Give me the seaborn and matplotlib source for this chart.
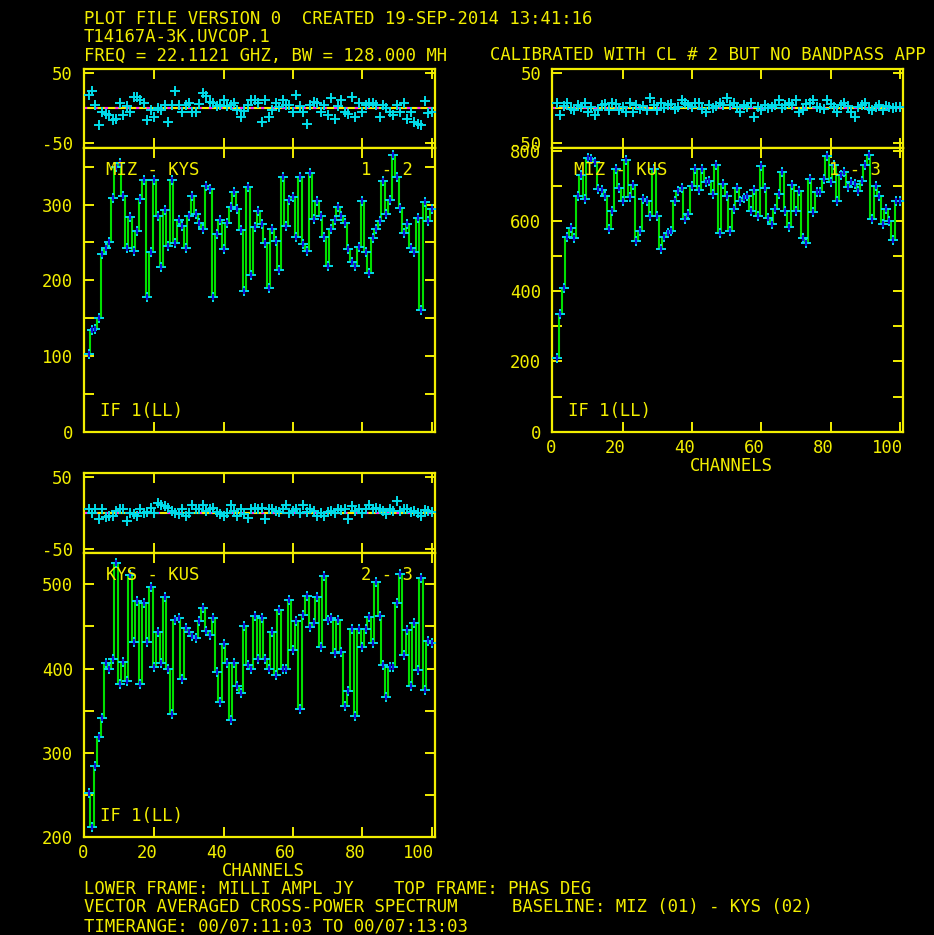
"""AIPS POSSM style cross-power spectra, three baselines."""
import matplotlib
matplotlib.use("Agg")
import matplotlib.pyplot as plt
import matplotlib.transforms as mtransforms
import pandas as pd
import seaborn as sns

channels = list(range(1, 101))

amp_miz_kys = [
    102, 134, 136, 150, 235, 243, 251, 308, 349, 355,
    311, 243, 283, 239, 265, 307, 333, 178, 237, 333,
    285, 217, 293, 245, 333, 249, 279, 272, 243, 285,
    311, 287, 276, 268, 325, 321, 178, 261, 279, 241,
    276, 297, 316, 294, 266, 186, 323, 207, 270, 292,
    274, 249, 190, 268, 252, 213, 336, 272, 306, 310,
    257, 336, 248, 239, 342, 281, 305, 285, 257, 219,
    268, 279, 297, 285, 276, 241, 224, 219, 244, 304,
    237, 209, 256, 268, 278, 331, 287, 306, 366, 336,
    295, 263, 274, 243, 237, 282, 161, 303, 278, 294,
]
phase_miz_kys = [
    18, 25, 5, -24, -6, -8, -10, -17, -15, 8,
    -10, 3, -5, 16, 16, 11, 8, -17, -3, -13,
    0, -2, 5, -19, 5, 24, 5, -6, 5, 7,
    -5, -5, 6, 22, 17, 9, 8, 3, 5, 11,
    3, 5, 8, -3, -13, -4, 5, 12, 11, 8,
    -20, 11, -13, -2, 8, 2, 12, 5, 5, -6,
    19, 3, -6, -22, 5, 9, 8, -5, 5, -9,
    14, -15, 3, 12, -5, -8, 16, -13, 8, -5,
    5, 8, 8, 5, -13, 4, 0, -6, -10, 5,
    -5, 7, -15, -6, -20, -22, -24, 10, -7, -5,
]

amp_miz_kus = [
    210, 335, 410, 555, 580, 552, 671, 729, 662, 778,
    776, 767, 690, 689, 671, 578, 628, 748, 692, 657,
    774, 667, 702, 543, 571, 662, 657, 614, 748, 614,
    519, 555, 566, 571, 657, 686, 692, 604, 619, 698,
    746, 689, 746, 710, 714, 676, 759, 566, 705, 671,
    571, 633, 692, 657, 664, 671, 628, 689, 614, 755,
    692, 609, 590, 633, 676, 740, 628, 581, 702, 628,
    686, 550, 538, 719, 624, 683, 683, 719, 784, 710,
    759, 657, 730, 738, 695, 710, 705, 686, 714, 759,
    786, 604, 698, 671, 590, 635, 600, 545, 655, 657,
]
phase_miz_kus = [
    8, -10, 3, 8, -1, -3, 5, 2, 8, -6,
    1, -10, -3, 4, 6, -3, 8, 6, -3, 2,
    -6, 8, -6, 4, -1, 3, -3, 14, 4, -3,
    8, 0, 4, 6, -1, 1, 11, 8, 5, 2,
    8, 8, -1, -6, 5, 0, 3, 8, 5, 14,
    4, 8, 1, -6, 5, 2, 8, -13, 1, -3,
    5, 0, 1, 5, 11, 0, 4, 8, 5, 11,
    -6, -3, 6, 8, 11, 2, 0, -1, 11, 6,
    1, -6, 4, 8, 3, -5, -13, 1, 5, 8,
    -1, -3, 2, 4, -2, 3, 1, 0, 2, 1,
]

amp_kys_kus = [
    252, 211, 284, 318, 341, 406, 399, 411, 525, 381,
    408, 385, 511, 431, 480, 381, 478, 431, 497, 402,
    444, 407, 485, 400, 346, 458, 460, 388, 448, 444,
    439, 436, 457, 472, 445, 440, 460, 396, 360, 429,
    407, 339, 406, 379, 371, 451, 404, 400, 463, 411,
    460, 411, 399, 444, 392, 469, 400, 400, 482, 422,
    456, 352, 464, 486, 449, 454, 485, 425, 510, 458,
    460, 419, 458, 420, 356, 373, 447, 344, 447, 426,
    447, 461, 430, 503, 462, 404, 366, 402, 402, 478,
    512, 416, 446, 379, 454, 398, 508, 375, 433, 430,
]
phase_kys_kus = [
    5, 0, 5, -8, 5, -6, -4, -5, 2, 5,
    5, -11, 0, -2, -5, 5, 0, 1, 7, 0,
    13, 11, 9, 7, 2, 0, -2, 5, -5, 0,
    11, 5, 5, 11, 2, 5, 7, 1, -2, -5,
    0, 11, 2, -5, 5, -2, -7, 5, 7, 5,
    7, -9, 5, 5, 2, 1, 5, 11, 0, 2,
    5, 0, 11, 1, 5, 2, -4, 0, -5, 1,
    2, 0, 5, 4, 5, -8, 9, 2, 5, 0,
    5, 11, 5, 7, 5, 2, -2, 5, 2, 17,
    2, 5, 5, 1, 2, 0, -4, 4, 3, 1,
]

x_ticks = [20, 40, 60, 80, 100]
x_tick_labels = ["0", "20", "40", "60", "80", "100"]

header = [
    "PLOT FILE VERSION 0  CREATED 19-SEP-2014 13:41:16",
    "T14167A-3K.UVCOP.1",
    "FREQ = 22.1121 GHZ, BW = 128.000 MH",
]
# the reference is cut at the right edge, keep only what shows
header_right = "CALIBRATED WITH CL # 2 BUT NO BANDPASS APP"
footer = [
    ("LOWER FRAME: MILLI AMPL JY", "TOP FRAME: PHAS DEG"),
    ("VECTOR AVERAGED CROSS-POWER SPECTRUM", "BASELINE: MIZ (01) - KYS (02)"),
    ("TIMERANGE: 00/07:11:03 TO 00/07:13:03", ""),
]

W, H = 934, 935
YEL = "#f2ee00"
GREEN = "#00e000"
CYAN = "#00dcea"
BLUE = "#1010d8"
MAG = "#ff20ff"
FS = 12.4

sns.set_style("ticks", {"axes.facecolor": "black", "figure.facecolor": "black"})
plt.rcParams["font.family"] = ["DejaVu Sans Mono"]

fig = plt.figure(figsize=(W / 100, H / 100), dpi=100, facecolor="black")


def px_text(x, y, s, **kw):
    # x, y in pixels from top left, y is the baseline
    fig.text(x / W, 1 - y / H, s, color=YEL, fontsize=FS, va="baseline", **kw)


def style_axes(ax, ylim, yticks, ylabels):
    ax.set_facecolor("black")
    ax.set_xlim(-0.3, 101)
    ax.set_ylim(*ylim)
    ax.set_xticks(x_ticks)
    ax.set_xticklabels([])
    ax.set_yticks(yticks)
    ax.set_yticklabels(ylabels)
    ax.set_xlabel("")
    ax.set_ylabel("")
    for sp in ax.spines.values():
        sp.set_color(YEL)
        sp.set_linewidth(1.6)
    ax.tick_params(axis="both", which="both", direction="in", colors=YEL,
                   length=7, width=1.4, top=True, right=True,
                   labelsize=FS, pad=8)


def panel(left, right, top, mid, bottom, amp, phase, amp_ylim, amp_ticks,
          amp_labels, pair, numbers, xlabels):
    ax_ph = fig.add_axes([left / W, 1 - mid / H, (right - left) / W, (mid - top) / H])
    ax_amp = fig.add_axes([left / W, 1 - bottom / H, (right - left) / W, (bottom - mid) / H])

    # phase frame
    ax_ph.axhline(0, color=YEL, lw=1.5, zorder=1)
    ax_ph.axhline(0, color=MAG, lw=1.5, dashes=(1.5, 3.5), zorder=2)
    sns.scatterplot(x=channels, y=phase, ax=ax_ph, marker="+", s=60,
                    color=CYAN, linewidth=1.4, zorder=3)
    style_axes(ax_ph, (-56, 55.5), [-50, 50], ["-50", "50"])

    # amplitude frame
    df = pd.DataFrame({"channel": channels, "amp": amp})
    sns.lineplot(data=df, x="channel", y="amp", ax=ax_amp, color=GREEN,
                 lw=1.5, drawstyle="steps-mid", estimator=None, zorder=2)
    sns.scatterplot(data=df, x="channel", y="amp", ax=ax_amp, marker="+",
                    s=60, color=CYAN, linewidth=1.4, zorder=3)
    sns.scatterplot(data=df, x="channel", y="amp", ax=ax_amp, marker="|",
                    s=14, color=BLUE, linewidth=1.6, zorder=4)
    style_axes(ax_amp, amp_ylim, amp_ticks, amp_labels)

    px_text(left + 22, mid + 27, pair)
    px_text(left + 277, mid + 27, numbers)
    px_text(left + 16, bottom - 15.5, "IF 1(LL)")

    if xlabels:
        trans = mtransforms.blended_transform_factory(ax_amp.transData, ax_amp.transAxes) + \
            mtransforms.ScaledTranslation(3 / 100, -21 / 100, fig.dpi_scale_trans)
        for t, lab in zip([0] + x_ticks, x_tick_labels):
            ax_amp.text(t, 0, lab, transform=trans, ha="right", va="baseline",
                        color=YEL, fontsize=FS)
        px_text((left + right) / 2 + 3.5, bottom + 39, "CHANNELS", ha="center")


panel(84, 435, 69, 147.7, 431.7, amp_miz_kys, phase_miz_kys, (0, 375),
      list(range(0, 376, 50)),
      ["0", "", "100", "", "200", "", "300", ""], "MIZ - KYS", "1 - 2", False)
panel(552.3, 903.3, 69, 147.7, 431.7, amp_miz_kus, phase_miz_kus, (0, 808),
      list(range(0, 801, 100)),
      ["0", "", "200", "", "400", "", "600", "", "800"], "MIZ - KUS", "1 - 3", True)
panel(84, 435, 472.7, 553.3, 836.7, amp_kys_kus, phase_kys_kus, (200, 537),
      list(range(200, 501, 50)),
      ["200", "", "300", "", "400", "", "500"], "KYS - KUS", "2 - 3", True)

for i, line in enumerate(header):
    px_text(84, 23.5 + 18.5 * i, line)
px_text(490, 60.5, header_right)

footer_y = [893.5, 912.5, 931.5]
footer_x2 = [394, 512, 0]
for (a, b), y, x2 in zip(footer, footer_y, footer_x2):
    px_text(84, y, a)
    if b:
        px_text(x2, y, b)

fig.savefig("out.png", dpi=100, facecolor="black")
